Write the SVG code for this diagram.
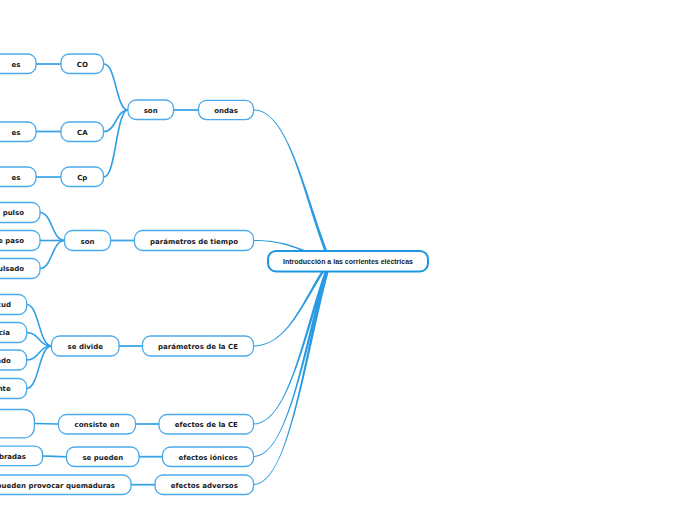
<svg xmlns="http://www.w3.org/2000/svg" width="696" height="520" viewBox="0 0 696 520">
<style>
.n rect{fill:#fff;stroke:#4aaaea;stroke-width:1.3}
.n text{font-family:"DejaVu Sans",Verdana,sans-serif;font-weight:bold;font-size:7px;fill:#1a1a1a;text-anchor:middle}
.n text.e{text-anchor:end}
#root rect{fill:#fff;stroke:#1e97e0;stroke-width:2}
#root text{font-family:"Liberation Sans",Arial,sans-serif;font-weight:bold;font-size:7px;fill:#1a1a1a;text-anchor:middle}
.t{fill:#2a9be3;stroke:none}
.c{fill:none;stroke:#2f9fe6;stroke-width:1.6}
.s{fill:none;stroke:#3aa4e8;stroke-width:1.8}
</style>
<rect width="696" height="520" fill="#fff"/>
<g id="connectors">
<path class="t" d="M253.5,109.5 C290,109.5 306.5,200.6 331.5,261 L328.5,261 C303.5,200.6 290,110.5 253.5,110.5 Z"/>
<path class="t" d="M253.5,240 C290,240 305,251.6 330,259.8 L330,262.2 C305,254 290,241 253.5,241 Z"/>
<path class="t" d="M253.5,345.5 C290,345.5 303.5,295 328.5,261 L331.5,261 C306.5,295 290,346.5 253.5,346.5 Z"/>
<path class="t" d="M253.5,423.5 C290,423.5 303.5,326.2 328.5,261 L331.5,261 C306.5,326.2 290,424.5 253.5,424.5 Z"/>
<path class="t" d="M253.5,456 C290,456 303.5,339.2 328.5,261 L331.5,261 C306.5,339.2 290,457 253.5,457 Z"/>
<path class="t" d="M253.5,484 C290,484 303.5,350.4 328.5,261 L331.5,261 C306.5,350.4 290,485 253.5,485 Z"/>
<path class="s" d="M174,110 L198,110"/>
<path class="c" d="M128,110 C116,110 116,64 104,64"/>
<path class="c" d="M128,110 C116,110 116,131.5 104,131.5"/>
<path class="c" d="M128,110 C116,110 116,177 104,177"/>
<path class="s" d="M36,64 L61,64"/>
<path class="s" d="M36,131.5 L61,131.5"/>
<path class="c" d="M36,177 L61,177"/>
<path class="s" d="M111,240.5 L134,240.5"/>
<path class="c" d="M64.5,240.5 C52,240.5 52,212.5 40,212.5"/>
<path class="c" d="M64.5,240.5 L40,240.5"/>
<path class="c" d="M64.5,240.5 C52,240.5 52,268.5 40,268.5"/>
<path class="s" d="M119,346 L142.5,346"/>
<path class="c" d="M51.5,346 C39,346 39,304.5 26.7,304.5"/>
<path class="c" d="M51.5,346 C39,346 39,332.5 26.7,332.5"/>
<path class="c" d="M51.5,346 C39,346 39,360 26.7,360"/>
<path class="c" d="M51.5,346 C39,346 39,388.5 26.7,388.5"/>
<path class="s" d="M135.5,424 L159,424"/>
<path class="c" d="M34.3,423.5 L58.5,424"/>
<path class="s" d="M139,456.7 L162.5,456.7"/>
<path class="c" d="M66.5,456.7 C54,456.7 54,456 42.7,456"/>
<path class="s" d="M131,484.7 L155,484.7"/>
</g>
<g id="root"><rect x="268" y="251" width="160" height="20.5" rx="8"/><text x="348" y="263.8">Introducción a las corrientes eléctricas</text></g>
<g id="n-ondas" class="n"><rect x="198.5" y="100.3" width="55" height="19.3" rx="8"/><text x="226" y="112.5">ondas</text></g>
<g id="n-son1" class="n"><rect x="128" y="100" width="45.5" height="19.5" rx="8"/><text x="150.7" y="112.5">son</text></g>
<g id="n-co" class="n"><rect x="61" y="54" width="42.5" height="19.5" rx="8"/><text x="82.3" y="66.8">CO</text></g>
<g id="n-ca" class="n"><rect x="61" y="122" width="42.5" height="19.5" rx="8"/><text x="82.3" y="134.5">CA</text></g>
<g id="n-cp" class="n"><rect x="61" y="167" width="42.5" height="19.5" rx="8"/><text x="82.3" y="179.8">Cp</text></g>
<g id="n-es1" class="n"><rect x="-20" y="54" width="56" height="19.5" rx="8"/><text x="16" y="66.5">es</text></g>
<g id="n-es2" class="n"><rect x="-20" y="122" width="56" height="19.5" rx="8"/><text x="16" y="134.5">es</text></g>
<g id="n-es3" class="n"><rect x="-20" y="167" width="56" height="19.5" rx="8"/><text x="16" y="179.8">es</text></g>
<g id="n-tiempo" class="n"><rect x="134.5" y="230.5" width="119" height="20" rx="8"/><text x="194" y="243.5">parámetros de tiempo</text></g>
<g id="n-son2" class="n"><rect x="64.5" y="230.5" width="46" height="20" rx="8"/><text x="87.5" y="243.5">son</text></g>
<g id="n-pulso" class="n"><rect x="-40" y="202.5" width="80" height="20" rx="8"/><text class="e" x="24" y="215">pulso</text></g>
<g id="n-paso" class="n"><rect x="-40" y="230.5" width="80" height="20" rx="8"/><text class="e" x="24" y="243">e paso</text></g>
<g id="n-pulsado" class="n"><rect x="-40" y="258.5" width="80" height="20" rx="8"/><text class="e" x="24" y="271">ulsado</text></g>
<g id="n-ce" class="n"><rect x="142.5" y="336" width="111" height="20" rx="8"/><text x="198" y="349">parámetros de la CE</text></g>
<g id="n-divide" class="n"><rect x="51.5" y="336" width="67.5" height="20" rx="8"/><text x="85.3" y="349">se divide</text></g>
<g id="n-cud" class="n"><rect x="-40" y="294.5" width="66.7" height="20" rx="8"/><text class="e" x="11" y="307">cud</text></g>
<g id="n-cia" class="n"><rect x="-40" y="322.5" width="66.7" height="20" rx="8"/><text class="e" x="10" y="335">cia</text></g>
<g id="n-ado" class="n"><rect x="-40" y="350" width="66.7" height="20" rx="8"/><text class="e" x="10.7" y="362.5">ado</text></g>
<g id="n-nte" class="n"><rect x="-40" y="378.5" width="66.7" height="20" rx="8"/><text class="e" x="10.7" y="391">nte</text></g>
<g id="n-efce" class="n"><rect x="159" y="414.5" width="94.5" height="19.5" rx="8"/><text x="206.3" y="427">efectos de la CE</text></g>
<g id="n-consiste" class="n"><rect x="58.5" y="414.5" width="77" height="19.5" rx="8"/><text x="97" y="427">consiste en</text></g>
<g id="n-big" class="n"><rect x="-40" y="409.5" width="74.3" height="28.3" rx="10"/></g>
<g id="n-ionicos" class="n"><rect x="162.5" y="447" width="91" height="19.5" rx="8"/><text x="208" y="459.5">efectos iónicos</text></g>
<g id="n-pueden" class="n"><rect x="66.5" y="447" width="72.5" height="19.5" rx="8"/><text x="102.8" y="459.5">se pueden</text></g>
<g id="n-bradas" class="n"><rect x="-40" y="446.2" width="82.7" height="19.5" rx="8"/><text class="e" x="26" y="458.5">bradas</text></g>
<g id="n-adversos" class="n"><rect x="155" y="475" width="98.5" height="19.5" rx="8"/><text x="204.3" y="487.5">efectos adversos</text></g>
<g id="n-quem" class="n"><rect x="-30" y="475" width="161" height="19.5" rx="8"/><text class="e" x="115" y="487.5">pueden provocar quemaduras</text></g>
</svg>
